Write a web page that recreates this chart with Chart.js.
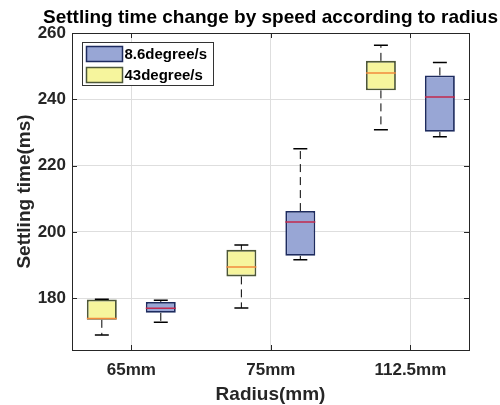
<!DOCTYPE html>
<html>
<head>
<meta charset="utf-8">
<script src="https://cdn.jsdelivr.net/npm/chart.js@4.4.1/dist/chart.umd.min.js"></script>
<style>
  html, body { margin: 0; padding: 0; background: #fff; }
  #wrap { width: 500px; height: 405px; }
</style>
</head>
<body>
<div id="wrap"><canvas id="boxChart" width="500" height="405"></canvas></div>
<script>
// data
const categories = ['65mm', '75mm', '112.5mm'];
const yTicks = [180, 200, 220, 240, 260];

// 43degree/s (yellow, left box)
const fastMin = [168.9, 177.1, 230.8];
const fastQ1 = [173.5, 186.6, 242.7];
const fastMed = [173.9, 189.4, 247.9];
const fastQ3 = [179.6, 194.6, 251.6];
const fastMax = [179.7, 196.1, 256.3];

// 8.6degree/s (blue, right box)
const slowMin = [172.8, 191.6, 228.7];
const slowQ1 = [175.6, 192.8, 230.2];
const slowMed = [177.0, 203.0, 240.7];
const slowQ3 = [178.9, 206.3, 247.2];
const slowMax = [179.4, 225.1, 251.1];

const titleText = 'Settling time change by speed according to radius';

const catPct = 0.845;
const barPct = 0.508;
const shift = catPct / 4;          // box centre offset from group, in x units
const halfBox = shift * barPct;
const capHalf = 0.05;

function boxData(q1, q3) {
    return q1.map(function(v, i) { return { x: i + 1, y: [v, q3[i]] }; });
}
function whiskerData(dir, lo, q1, q3, hi) {
    var pts = [];
    lo.forEach(function(v, i) {
        var c = i + 1 + dir * shift;
        pts.push({x: c, y: q3[i]}, {x: c, y: hi[i]}, {x: c, y: null});
        pts.push({x: c, y: q1[i]}, {x: c, y: v}, {x: c, y: null});
    });
    return pts;
}
function capData(dir, lo, hi) {
    var pts = [];
    lo.forEach(function(v, i) {
        var c = i + 1 + dir * shift;
        pts.push({x: c - capHalf, y: hi[i]}, {x: c + capHalf, y: hi[i]}, {x: c, y: null});
        pts.push({x: c - capHalf, y: v}, {x: c + capHalf, y: v}, {x: c, y: null});
    });
    return pts;
}
function medianData(dir, med) {
    var pts = [];
    med.forEach(function(v, i) {
        var c = i + 1 + dir * shift;
        pts.push({x: c - halfBox, y: v}, {x: c + halfBox, y: v}, {x: c, y: null});
    });
    return pts;
}

const yellowFill = '#f6f59d', yellowEdge = '#4d5738', yellowMed = '#f28b3c';
const blueFill = '#98a6d5', blueEdge = '#1d2b5f', blueMed = '#c22a4e';

function lineSet(data, color, width, dash, order) {
    return {
        type: 'line', data: data, borderColor: color, borderWidth: width,
        borderDash: dash, pointRadius: 0, spanGaps: false, tension: 0,
        fill: false, order: order
    };
}

const frame = {
    id: 'frame',
    afterDraw: function(chart) {
        const ctx = chart.ctx, a = chart.chartArea;
        const xs = chart.scales.x, ys = chart.scales.y;
        ctx.save();
        ctx.strokeStyle = '#262626';
        ctx.lineWidth = 1;
        ctx.strokeRect(Math.round(a.left) + 0.5, Math.round(a.top) + 0.5,
            Math.round(a.right - a.left), Math.round(a.bottom - a.top));
        ctx.beginPath();
        categories.forEach(function(c, i) {
            var px = Math.round(xs.getPixelForValue(i + 1)) + 0.5;
            ctx.moveTo(px, a.bottom); ctx.lineTo(px, a.bottom - 5);
            ctx.moveTo(px, a.top); ctx.lineTo(px, a.top + 5);
        });
        yTicks.forEach(function(v) {
            var py = Math.round(ys.getPixelForValue(v)) + 0.5;
            ctx.moveTo(a.left, py); ctx.lineTo(a.left + 5, py);
            ctx.moveTo(a.right, py); ctx.lineTo(a.right - 5, py);
        });
        ctx.stroke();

        // title
        ctx.fillStyle = '#000';
        ctx.font = 'bold 19px "Liberation Sans", Arial, sans-serif';
        ctx.textAlign = 'center';
        ctx.textBaseline = 'middle';
        ctx.fillText(titleText, (a.left + a.right) / 2, 18);

        // legend
        const items = [chart.data.datasets[1], chart.data.datasets[0]];
        const lx = a.left + 10.5, ly = a.top + 9.5;
        ctx.fillStyle = '#fff';
        ctx.fillRect(lx, ly, 131, 43);
        ctx.strokeStyle = '#333';
        ctx.strokeRect(lx, ly, 131, 43);
        ctx.font = 'bold 15px "Liberation Sans", Arial, sans-serif';
        ctx.textAlign = 'left';
        items.forEach(function(d, i) {
            var sy = ly + 4 + i * 21;
            ctx.fillStyle = d.backgroundColor;
            ctx.fillRect(lx + 4, sy, 36, 15);
            ctx.strokeStyle = d.borderColor;
            ctx.lineWidth = 1.5;
            ctx.strokeRect(lx + 4, sy, 36, 15);
            ctx.fillStyle = '#000';
            ctx.fillText(d.label, lx + 42, sy + 8);
        });
        ctx.restore();
    }
};

new Chart(document.getElementById('boxChart'), {
    type: 'bar',
    data: {
        datasets: [
            {
                label: '43degree/s', data: boxData(fastQ1, fastQ3),
                backgroundColor: yellowFill, borderColor: yellowEdge, borderWidth: 1.8,
                borderSkipped: false, categoryPercentage: catPct, barPercentage: barPct, order: 3
            },
            {
                label: '8.6degree/s', data: boxData(slowQ1, slowQ3),
                backgroundColor: blueFill, borderColor: blueEdge, borderWidth: 1.8,
                borderSkipped: false, categoryPercentage: catPct, barPercentage: barPct, order: 3
            },
            lineSet(whiskerData(-1, fastMin, fastQ1, fastQ3, fastMax), '#000', 1, [8, 5], 4),
            lineSet(whiskerData(1, slowMin, slowQ1, slowQ3, slowMax), '#000', 1, [8, 5], 4),
            lineSet(capData(-1, fastMin, fastMax), '#000', 1.5, [], 2),
            lineSet(capData(1, slowMin, slowMax), '#000', 1.5, [], 2),
            lineSet(medianData(-1, fastMed), yellowMed, 1.5, [], 1),
            lineSet(medianData(1, slowMed), blueMed, 1.5, [], 1)
        ]
    },
    options: {
        responsive: false,
        animation: false,
        layout: { padding: { top: 33, right: 31, left: 0, bottom: 0 } },
        plugins: { legend: { display: false }, tooltip: { enabled: false }, title: { display: false } },
        scales: {
            x: {
                type: 'linear', min: 0.575, max: 3.42, offset: false,
                afterBuildTicks: function(s) { s.ticks = categories.map(function(c, i) { return {value: i + 1}; }); },
                afterFit: function(s) { s.height = 55; },
                ticks: {
                    callback: function(v) { return categories[v - 1]; },
                    color: '#262626', padding: 10,
                    font: { family: '"Liberation Sans", Arial, sans-serif', size: 17, weight: 'bold' }
                },
                grid: { color: '#dedede', drawTicks: false, offset: false },
                border: { display: false },
                title: {
                    display: true, text: 'Radius(mm)', color: '#262626', padding: { top: 0, bottom: -1 },
                    font: { family: '"Liberation Sans", Arial, sans-serif', size: 19, weight: 'bold' }
                }
            },
            y: {
                min: 164.4, max: 260,
                afterBuildTicks: function(s) { s.ticks = yTicks.map(function(v) { return {value: v}; }); },
                afterFit: function(s) { s.width = 72; },
                ticks: {
                    color: '#262626', padding: 6,
                    font: { family: '"Liberation Sans", Arial, sans-serif', size: 17, weight: 'bold' }
                },
                grid: { color: '#dedede', drawTicks: false },
                border: { display: false },
                title: {
                    display: true, text: 'Settling time(ms)', color: '#262626', padding: { top: 13, bottom: 0 },
                    font: { family: '"Liberation Sans", Arial, sans-serif', size: 19, weight: 'bold' }
                }
            }
        }
    },
    plugins: [frame]
});
</script>
</body>
</html>
